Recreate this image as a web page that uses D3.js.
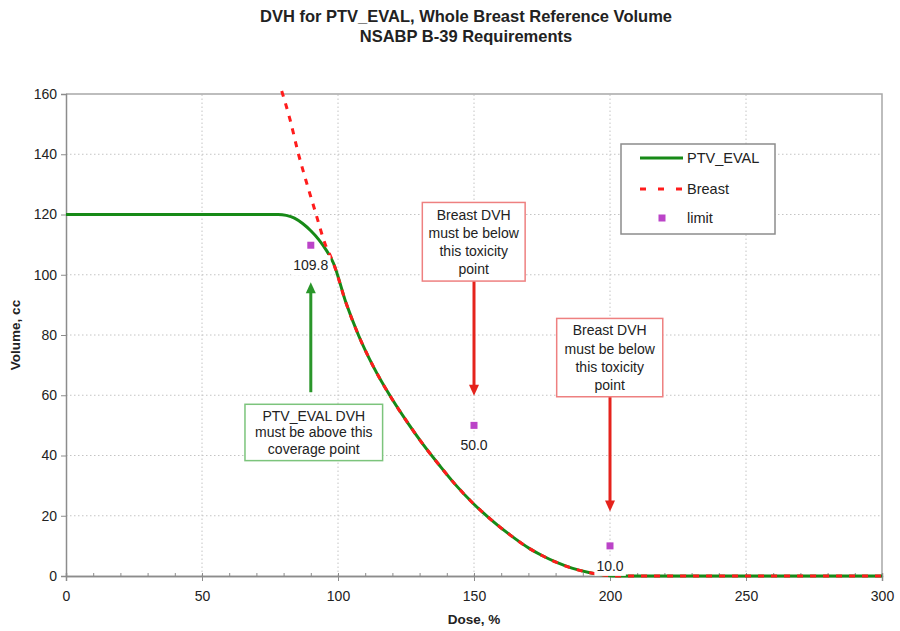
<!DOCTYPE html>
<html>
<meta charset="utf-8">
<head>
<title>DVH for PTV_EVAL</title>
<style>
body { margin: 0; background: #fff; }
svg text { font-family: Arial, "Liberation Sans", sans-serif; fill: #222; }
.grid line { stroke: #c4c4c4; stroke-dasharray: 1.5, 2.5; }
.tick text { font-size: 14px; }
.title { font-size: 16.5px; font-weight: bold; text-anchor: middle; }
.axisTitle { font-size: 13.5px; font-weight: bold; text-anchor: middle; }
.note { font-size: 14px; text-anchor: middle; }
</style>
</head>
<body>
<script src="https://cdnjs.cloudflare.com/ajax/libs/d3/7.8.5/d3.min.js"></script>
<script>

// chart data
var ptvEval = [[0,120],[20,120],[40,120],[60,120],[78,120],[81,119.7],[84,118.8],[87,117],
  [90,114.6],[93,111.6],[95.8,108],[98.3,103.9],[103,90.5],[107.5,80],[113,69.5],[119.7,59],
  [125.9,50.5],[131,44],[137.5,36.5],[143,30.5],[149.8,24],[155.9,19],[163,13.8],[170.6,9],
  [175,6.8],[180.4,4.5],[186,2.6],[192.6,1.1],[197,0.4],[202,0],[250,0],[300,0]];
var breastTop = [[79.3,161],[82.4,151.4],[85.4,140.3],[88.5,130.4],[91.5,121.4],[95.2,110.4]];
var limitDose = [90, 150, 200];
var limitVol = [109.8, 50.0, 10.0];
var xTicks = [0, 50, 100, 150, 200, 250, 300];
var yTicks = [0, 20, 40, 60, 80, 100, 120, 140, 160];

// breast follows the PTV curve from ~98 % dose on
var breast = breastTop.concat(ptvEval.filter(d => d[0] >= 98));

var notes = [
  {lines: ["PTV_EVAL DVH", "must be above this", "coverage point"], color: "#7cc47c",
   box: [65.8, 116.4, 57, 38.3], arrow: {dose: 90, from: 61, to: 97.5}, arrowColor: "#2a962a"},
  {lines: ["Breast DVH", "must be below", "this toxicity", "point"], color: "#ee8080",
   box: [131, 168.8, 124, 97.9], arrow: {dose: 150, from: 97.9, to: 59.8}, arrowColor: "#e5231c"},
  {lines: ["Breast DVH", "must be below", "this toxicity", "point"], color: "#ee8080",
   box: [180.4, 219.4, 85.5, 59.5], arrow: {dose: 200, from: 59.5, to: 21.4}, arrowColor: "#e5231c"}
];

var width = 900, height = 631;
var margin = {top: 94, right: 18, bottom: 55, left: 66};

var svg = d3.select("body").append("svg")
    .attr("width", width)
    .attr("height", height);

var x = d3.scaleLinear().domain([0, 300]).range([margin.left, width - margin.right]);
var y = d3.scaleLinear().domain([0, 160]).range([height - margin.bottom, margin.top]);

// gridlines
var grid = svg.append("g").attr("class", "grid");
grid.selectAll(".gx").data(xTicks.filter(d => d > 0 && d < 300)).enter()
  .append("line")
    .attr("x1", d => x(d)).attr("x2", d => x(d))
    .attr("y1", y(0)).attr("y2", y(160));
grid.selectAll(".gy").data(yTicks.filter(d => d > 0 && d < 160)).enter()
  .append("line")
    .attr("x1", x(0)).attr("x2", x(300))
    .attr("y1", d => y(d)).attr("y2", d => y(d));

// plot border top / right
svg.append("path")
    .attr("d", "M" + x(0) + "," + y(160) + "H" + x(300) + "V" + y(0))
    .attr("fill", "none")
    .attr("stroke", "#a8a8a8")
    .attr("stroke-width", 1.5);

// axes
var xAxis = svg.append("g")
    .attr("transform", "translate(0," + y(0) + ")")
    .call(d3.axisBottom(x).tickValues(xTicks).tickSize(5).tickPadding(10));
var xMinor = svg.append("g")
    .attr("transform", "translate(0," + y(0) + ")")
    .call(d3.axisBottom(x).tickValues(d3.range(10, 300, 10)).tickSize(-3).tickFormat(""));
var yAxis = svg.append("g")
    .attr("transform", "translate(" + x(0) + ",0)")
    .call(d3.axisLeft(y).tickValues(yTicks).tickSize(5).tickPadding(4));

[xAxis, xMinor, yAxis].forEach(function(a) {
  a.select(".domain").attr("stroke", "#8c8c8c").attr("stroke-width", 1.5);
  a.selectAll(".tick line").attr("stroke", "#8c8c8c");
  a.selectAll(".tick text").attr("fill", "#2a2a2a");
});

svg.append("text").attr("class", "axisTitle")
    .attr("x", (x(0) + x(300)) / 2).attr("y", 624)
    .text("Dose, %");
svg.append("text").attr("class", "axisTitle")
    .attr("transform", "translate(20," + (y(0) + y(160)) / 2 + ") rotate(-90)")
    .text("Volume, cc");

svg.append("text").attr("class", "title").attr("x", 466).attr("y", 22)
    .text("DVH for PTV_EVAL, Whole Breast Reference Volume");
svg.append("text").attr("class", "title").attr("x", 466).attr("y", 42)
    .text("NSABP B-39 Requirements");

// curves
var line = d3.line()
    .x(d => x(d[0]))
    .y(d => y(d[1]))
    .curve(d3.curveMonotoneX);

svg.append("path")
    .datum(ptvEval)
    .attr("d", line)
    .attr("fill", "none")
    .attr("stroke", "#178a17")
    .attr("stroke-width", 3);

svg.append("path")
    .datum(breast)
    .attr("d", line)
    .attr("fill", "none")
    .attr("stroke", "#ff1c1c")
    .attr("stroke-width", 3)
    .attr("stroke-dasharray", "6,7");

// limit points + labels
var limits = limitDose.map((d, i) => ({dose: d, vol: limitVol[i]}));

svg.selectAll(".limit").data(limits).enter()
  .append("rect")
    .attr("x", d => x(d.dose) - 3.5)
    .attr("y", d => y(d.vol) - 3.5)
    .attr("width", 7).attr("height", 7)
    .attr("fill", "#bb44c8");

var lbl = svg.selectAll(".limitLabel").data(limits).enter().append("g");
lbl.append("rect").attr("fill", "#fff");
lbl.append("text")
    .attr("x", d => x(d.dose))
    .attr("y", d => y(d.vol) + 25)
    .attr("text-anchor", "middle")
    .style("font-size", "14px")
    .attr("fill", "#333")
    .text(d => d.vol.toFixed(1));
lbl.each(function() {
  var g = d3.select(this);
  var b = g.select("text").node().getBBox();
  g.select("rect")
    .attr("x", b.x - 2).attr("y", b.y - 2)
    .attr("width", b.width + 4).attr("height", b.height + 4);
});

// annotation boxes and arrows
notes.forEach(function(n) {
  var ax = x(n.arrow.dose), y0 = y(n.arrow.from), y1 = y(n.arrow.to);
  var dir = y1 > y0 ? 1 : -1;
  svg.append("line")
    .attr("x1", ax).attr("x2", ax)
    .attr("y1", y0).attr("y2", y1 - dir * 10)
    .attr("stroke", n.arrowColor).attr("stroke-width", 3);
  svg.append("path")
    .attr("d", "M" + (ax - 5) + "," + (y1 - dir * 11) + "L" + ax + "," + y1 + "L" + (ax + 5) + "," + (y1 - dir * 11) + "Z")
    .attr("fill", n.arrowColor);

  var bx0 = x(n.box[0]), bx1 = x(n.box[1]), by0 = y(n.box[2]), by1 = y(n.box[3]);
  svg.append("rect")
    .attr("x", bx0).attr("y", by0)
    .attr("width", bx1 - bx0).attr("height", by1 - by0)
    .attr("fill", "#fff")
    .attr("stroke", n.color).attr("stroke-width", 1.5);
  var lh = (by1 - by0 - 6) / n.lines.length;
  n.lines.forEach(function(t, i) {
    svg.append("text").attr("class", "note")
      .attr("x", (bx0 + bx1) / 2)
      .attr("y", by0 + 3 + lh * (i + 0.5) + 5)
      .text(t);
  });
});

// legend
var leg = svg.append("g").attr("transform", "translate(621,144)");
leg.append("rect")
    .attr("width", 154).attr("height", 90)
    .attr("fill", "#fff")
    .attr("stroke", "#8c8c8c").attr("stroke-width", 1.5);
leg.append("line").attr("x1", 19).attr("x2", 62).attr("y1", 14).attr("y2", 14)
    .attr("stroke", "#178a17").attr("stroke-width", 3);
leg.append("line").attr("x1", 19).attr("x2", 62).attr("y1", 45).attr("y2", 45)
    .attr("stroke", "#ff1c1c").attr("stroke-width", 3).attr("stroke-dasharray", "6,12");
leg.append("rect").attr("x", 37.5).attr("y", 70.5).attr("width", 7).attr("height", 7)
    .attr("fill", "#bb44c8");
[["PTV_EVAL", 14], ["Breast", 45], ["limit", 74]].forEach(function(e) {
  leg.append("text").attr("x", 66).attr("y", e[1] + 5)
    .style("font-size", "14.5px").text(e[0]);
});

</script>
</body>
</html>
